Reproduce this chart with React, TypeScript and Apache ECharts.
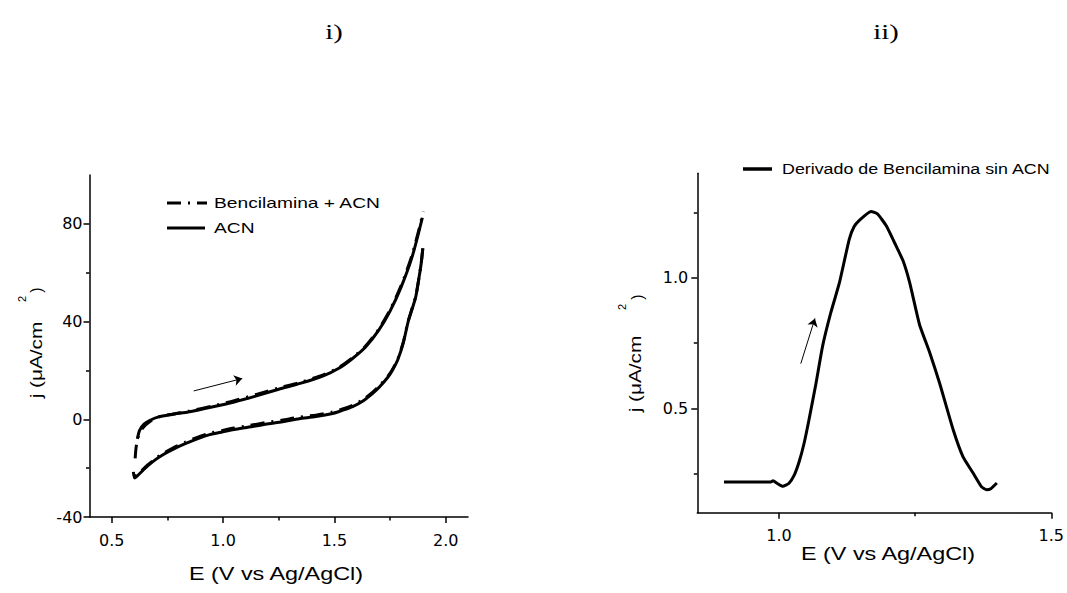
import React, { useEffect, useRef } from "react";
import * as echarts from "echarts";

// ---- Panel i) cyclic voltammograms ----
const leftXMajor = [0.5, 1.0, 1.5, 2.0];
const leftXMinor = [0.75, 1.25, 1.75];
const leftYMajor = [-40, 0, 40, 80];
const leftYMinor = [-20, 20, 60];

const acnForward: number[][] = [
  [0.615, -8], [0.625, -4.5], [0.645, -2], [0.67, -0.5], [0.71, 1], [0.77, 2],
  [0.85, 3.1], [0.95, 5], [1.05, 7.1], [1.15, 9.6], [1.25, 12.3], [1.35, 14.8],
  [1.45, 17.8], [1.52, 20.9], [1.58, 24.8], [1.64, 29.6], [1.7, 36.6],
  [1.75, 44.3], [1.8, 54.2], [1.85, 66.8], [1.895, 82.5],
];
const acnReverse: number[][] = [
  [1.897, 70], [1.89, 64], [1.88, 58], [1.865, 50], [1.845, 44], [1.83, 39.5],
  [1.81, 31.5], [1.785, 24.5], [1.76, 20], [1.74, 17.2], [1.7, 13], [1.672, 10.6],
  [1.63, 7.6], [1.582, 5.2], [1.53, 3.5], [1.492, 2.4], [1.417, 1.1], [1.342, 0.2],
  [1.267, -1], [1.19, -2], [1.116, -3.2], [1.05, -4.2], [0.996, -5.2], [0.94, -6.3],
  [0.89, -7.8], [0.83, -10], [0.77, -12.5], [0.73, -14.5], [0.695, -16.6],
  [0.66, -19.2], [0.62, -22.7], [0.603, -24], [0.597, -21.5],
];
const bencForward: number[][] = [
  [0.605, -16], [0.61, -11], [0.62, -7], [0.64, -3.5], [0.67, -1], [0.71, 0.9],
  [0.77, 2.1], [0.85, 3.4], [0.95, 5.4], [1.05, 7.6], [1.15, 10.2], [1.25, 12.8],
  [1.35, 15.2], [1.45, 18.2], [1.52, 21.2], [1.58, 25.1], [1.64, 30], [1.7, 37],
  [1.75, 44.8], [1.8, 54.8], [1.85, 67.6], [1.9, 85],
];
const bencReverse: number[][] = [
  [1.897, 70], [1.89, 64], [1.88, 58], [1.865, 50.3], [1.845, 44.3], [1.83, 39.8],
  [1.81, 31.8], [1.785, 24.8], [1.76, 20.3], [1.74, 17.6], [1.7, 13.5], [1.672, 11.1],
  [1.63, 8.1], [1.582, 5.7], [1.53, 4], [1.492, 3], [1.417, 1.7], [1.342, 0.9],
  [1.267, -0.3], [1.19, -1.4], [1.116, -2.6], [1.05, -3.6], [0.996, -4.6], [0.94, -5.7],
  [0.89, -7.2], [0.83, -9.4], [0.77, -12], [0.73, -14], [0.695, -16.2],
  [0.66, -18.8], [0.62, -22.3], [0.605, -23.4],
];
const leftArrow = [[0.868, 11.6], [1.086, 16.7]];

// ---- Panel ii) derivative ----
const rightXMajor = [1.0, 1.5];
const rightXMinor = [1.25];
const rightYMajor = [0.5, 1.0];
const rightYMinor = [0.25, 0.75, 1.25];

const derivCurve: number[][] = [
  [0.899, 0.218], [0.985, 0.218], [0.989, 0.222], [0.997, 0.212], [1.007, 0.201],
  [1.018, 0.212], [1.028, 0.244], [1.037, 0.295], [1.046, 0.365], [1.055, 0.455],
  [1.068, 0.596], [1.08, 0.737], [1.095, 0.865], [1.111, 0.981], [1.129, 1.147],
  [1.138, 1.196], [1.148, 1.221], [1.169, 1.254], [1.181, 1.244], [1.197, 1.199],
  [1.215, 1.122], [1.228, 1.064], [1.24, 0.981], [1.258, 0.821], [1.277, 0.712],
  [1.295, 0.596], [1.32, 0.417], [1.338, 0.314], [1.357, 0.25], [1.372, 0.199],
  [1.381, 0.188], [1.389, 0.192], [1.4, 0.214],
];
const rightArrow = [[1.04, 0.671], [1.066, 0.844]];

const leftLegend = ["Bencilamina + ACN", "ACN"];
const rightLegend = ["Derivado de Bencilamina sin ACN"];
const xTitle = "E (V vs Ag/AgCl)";
const yTitleMain = "j (μA/cm";
const panelTitles = ["i)", "ii)"];

const SANS = '"Liberation Sans", Arial, sans-serif';
const TICKFONT = '"DejaVu Sans", "Liberation Sans", sans-serif';
const DASHDOT = [14, 7, 2, 7];

function majorAxis(kind: "x" | "y", gridIndex: number, min: number, max: number, vals: number[], dec: number, margin: number, fs: number) {
  return {
    type: "value",
    gridIndex,
    min,
    max,
    position: kind === "x" ? "bottom" : "left",
    axisLine: { show: true, onZero: false, lineStyle: { color: "#000", width: 1.5 } },
    axisTick: { show: true, inside: false, length: 6, customValues: vals, lineStyle: { color: "#000", width: 1.5 } },
    axisLabel: {
      show: true,
      customValues: vals,
      margin,
      color: "#000",
      fontSize: fs,
      fontFamily: TICKFONT,
      formatter: (v: number) => v.toFixed(dec),
    },
    splitLine: { show: false },
  };
}
function minorAxis(kind: "x" | "y", gridIndex: number, min: number, max: number, vals: number[]) {
  return {
    type: "value",
    gridIndex,
    min,
    max,
    position: kind === "x" ? "bottom" : "left",
    axisLine: { show: false, onZero: false },
    axisTick: { show: true, inside: false, length: 3.5, customValues: vals, lineStyle: { color: "#000", width: 1.5 } },
    axisLabel: { show: false },
    splitLine: { show: false },
  };
}

function lineSeries(name: string, data: number[][], xi: number, yi: number, dashed: boolean, extra: any = {}) {
  return {
    type: "line",
    name,
    data,
    xAxisIndex: xi,
    yAxisIndex: yi,
    showSymbol: false,
    symbol: "none",
    smooth: 0.25,
    lineStyle: { color: "#000", width: 3, type: dashed ? DASHDOT : "solid" },
    z: dashed ? 4 : 3,
    silent: true,
    ...extra,
  };
}

function arrowMark(pts: number[][]) {
  return {
    silent: true,
    symbol: ["none", "arrow"],
    symbolSize: 8,
    label: { show: false },
    lineStyle: { color: "#000", width: 1, type: "solid" },
    data: [[{ coord: pts[0] }, { coord: pts[1] }]],
  };
}

function txt(text: string, x: number, y: number, opts: any = {}) {
  return {
    type: "text",
    x,
    y,
    rotation: opts.rotation || 0,
    scaleX: opts.scaleX || 1,
    scaleY: opts.scaleY || 1,
    silent: true,
    style: {
      text,
      fill: "#000",
      fontSize: opts.fontSize || 16,
      fontFamily: opts.fontFamily || SANS,
      align: opts.align || "center",
      verticalAlign: "middle",
    },
  };
}

export default function App() {
  const ref = useRef<HTMLDivElement>(null);
  useEffect(() => {
    if (!ref.current) return;
    const chart = echarts.init(ref.current, undefined, { renderer: "svg" });
    const option: any = {
      animation: false,
      backgroundColor: "#fff",
      grid: [
        { left: 89.5, top: 175, width: 378.5, height: 342 },
        { left: 697.3, top: 173.3, width: 354.4, height: 339.4 },
      ],
      xAxis: [
        majorAxis("x", 0, 0.4, 2.1, leftXMajor, 1, 15, 16),
        minorAxis("x", 0, 0.4, 2.1, leftXMinor),
        majorAxis("x", 1, 0.85, 1.5, rightXMajor, 1, 15, 16),
        minorAxis("x", 1, 0.85, 1.5, rightXMinor),
      ],
      yAxis: [
        majorAxis("y", 0, -40, 100, leftYMajor, 0, 7, 16),
        minorAxis("y", 0, -40, 100, leftYMinor),
        majorAxis("y", 1, 0.1, 1.4, rightYMajor, 1, 9, 16),
        minorAxis("y", 1, 0.1, 1.4, rightYMinor),
      ],
      series: [
        lineSeries("ACN", acnForward, 0, 0, false, { markLine: arrowMark(leftArrow) }),
        lineSeries("ACN", acnReverse, 0, 0, false),
        lineSeries("Bencilamina + ACN", bencForward, 0, 0, true),
        lineSeries("Bencilamina + ACN", bencReverse, 0, 0, true),
        lineSeries("Derivado de Bencilamina sin ACN", derivCurve, 2, 2, false, {
          smooth: 0.15,
          markLine: arrowMark(rightArrow),
        }),
      ],
      graphic: [
        txt(panelTitles[0], 334, 32, { fontSize: 22, fontFamily: '"Liberation Serif", "Times New Roman", serif', scaleX: 1.3 }),
        txt(panelTitles[1], 886, 32, { fontSize: 22, fontFamily: '"Liberation Serif", "Times New Roman", serif', scaleX: 1.3 }),
        // left legend
        { type: "line", silent: true, shape: { x1: 167, y1: 203, x2: 207, y2: 203 }, style: { stroke: "#000", lineWidth: 3, lineDash: DASHDOT } },
        txt(leftLegend[0], 214, 203, { fontSize: 15, align: "left", scaleX: 1.28 }),
        { type: "line", silent: true, shape: { x1: 167, y1: 228, x2: 205, y2: 228 }, style: { stroke: "#000", lineWidth: 3 } },
        txt(leftLegend[1], 214, 228, { fontSize: 15, align: "left", scaleX: 1.28 }),
        // right legend
        { type: "line", silent: true, shape: { x1: 743, y1: 169, x2: 772, y2: 169 }, style: { stroke: "#000", lineWidth: 3.5 } },
        txt(rightLegend[0], 782, 169, { fontSize: 15, align: "left", scaleX: 1.19 }),
        // axis titles
        txt(xTitle, 276, 574, { fontSize: 18, scaleX: 1.3 }),
        txt(xTitle, 888, 554, { fontSize: 18, scaleX: 1.3 }),
        txt(yTitleMain, 36, 360, { fontSize: 16, rotation: Math.PI / 2, scaleX: 1.3, scaleY: 1.05 }),
        txt("2", 22, 299, { fontSize: 11, rotation: Math.PI / 2 }),
        txt(")", 36, 290, { fontSize: 16, rotation: Math.PI / 2 }),
        txt(yTitleMain, 635, 374, { fontSize: 16, rotation: Math.PI / 2, scaleX: 1.3, scaleY: 1.05 }),
        txt("2", 622, 307, { fontSize: 11, rotation: Math.PI / 2 }),
        txt(")", 637, 297, { fontSize: 16, rotation: Math.PI / 2 }),
      ],
    };
    chart.setOption(option);
    return () => chart.dispose();
  }, []);
  return (
    <div
      ref={ref}
      style={{ position: "fixed", left: 0, top: 0, width: 1067, height: 593, background: "#fff" }}
    />
  );
}
